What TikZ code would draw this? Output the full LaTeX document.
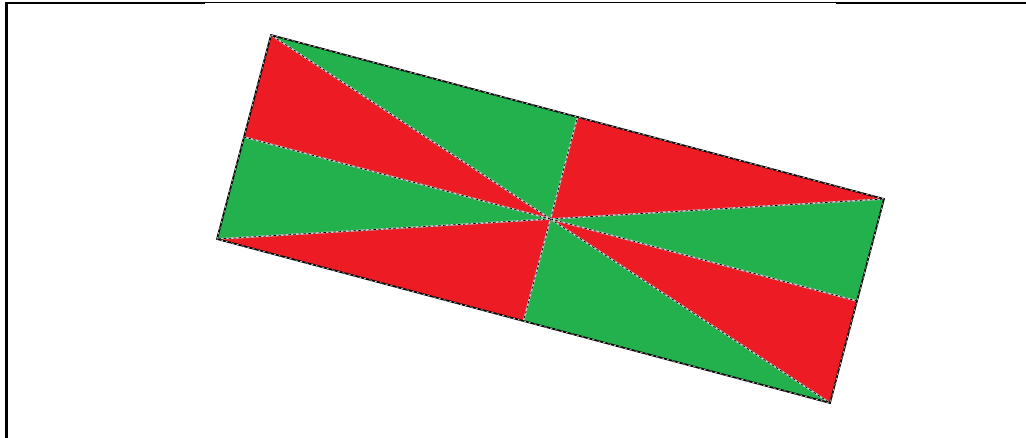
\documentclass[tikz,border=0pt]{standalone}
\usetikzlibrary{calc}
\definecolor{flagred}{HTML}{ED1C24}
\definecolor{flaggreen}{HTML}{22B14C}
\tikzset{
  frameline/.style={black,line width=2.2pt},
  thinframe/.style={black,line width=1pt},
  edgeblack/.style={black,line width=1.7pt,line cap=round},
  edgewhite/.style={white,line width=0.45pt,dash pattern=on 2.5pt off 3pt},
  innerwhite/.style={white!80!black,line width=1.5pt},
  innerblack/.style={black,line width=0.7pt,dash pattern=on 2.5pt off 2.5pt},
}
\begin{document}
\begin{tikzpicture}[x=1pt,y=-1pt]
\useasboundingbox (0,0) rectangle (1026,438);
% frame
\coordinate (f0) at (6.5,438);
\coordinate (f1) at (6.5,3);
\coordinate (f2) at (205,3);
\coordinate (f3) at (836,3);
\coordinate (f4) at (1026,3);
\draw[frameline] (f0) -- (f1) -- (f2);
\draw[thinframe] (f2) -- (f3);
\draw[frameline] (f3) -- (f4);
% rectangle corners
\coordinate (A) at (271,35);
\coordinate (B) at (884,199);
\coordinate (C) at (830,403);
\coordinate (D) at (217,239);
\coordinate (O) at ($(A)!0.5!(C)$);
\coordinate (mT) at ($(A)!0.5!(B)$);
\coordinate (mR) at ($(B)!0.5!(C)$);
\coordinate (mB) at ($(C)!0.5!(D)$);
\coordinate (mL) at ($(D)!0.5!(A)$);
% sectors
\fill[flaggreen] (O) -- (A) -- (mT) -- cycle;
\fill[flagred]   (O) -- (mT) -- (B) -- cycle;
\fill[flaggreen] (O) -- (B) -- (mR) -- cycle;
\fill[flagred]   (O) -- (mR) -- (C) -- cycle;
\fill[flaggreen] (O) -- (C) -- (mB) -- cycle;
\fill[flagred]   (O) -- (mB) -- (D) -- cycle;
\fill[flaggreen] (O) -- (D) -- (mL) -- cycle;
\fill[flagred]   (O) -- (mL) -- (A) -- cycle;
% inner lines
\foreach \p in {A,B,C,D,mT,mR,mB,mL}{
  \draw[innerwhite] (O) -- (\p);
  \draw[innerblack] (O) -- (\p);
}
% outer edges
\draw[edgeblack] (A) -- (B) -- (C) -- (D) -- cycle;
\draw[edgewhite] (A) -- (B) -- (C) -- (D) -- cycle;
\end{tikzpicture}
\end{document}
